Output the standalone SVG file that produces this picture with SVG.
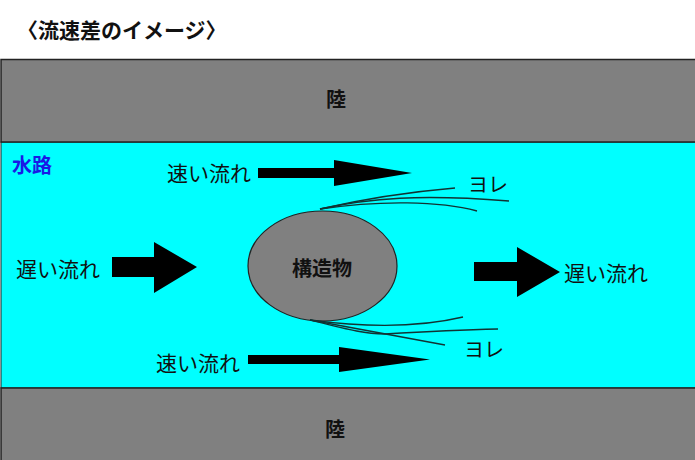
<svg xmlns="http://www.w3.org/2000/svg" width="695" height="460" viewBox="0 0 695 460">
<defs>
<style>
.land{fill:#808080;stroke:#222;stroke-width:1.5}
.water{fill:#00ffff;stroke:#222;stroke-width:1}
.t{font-family:"Noto Sans CJK JP","Noto Sans",sans-serif;font-size:20px;fill:#111}
.b{font-weight:bold}
.arr{fill:#000}
.yore{fill:none;stroke:#113333;stroke-width:1.4}
</style>
</defs>
<rect width="695" height="460" fill="#fff"/>
<text class="t b" x="17" y="38" style="font-size:21px">〈流速差のイメージ〉</text>
<g id="water">
<rect class="water" x="1" y="142" width="700" height="246"/>
<text class="t b" x="12" y="173" style="fill:#1a1ae6">水路</text>
</g>
<g id="land-top">
<rect class="land" x="1" y="59.5" width="700" height="82.5"/>
<text class="t b" x="336" y="107" text-anchor="middle">陸</text>
</g>
<g id="land-bottom">
<rect class="land" x="1" y="388" width="700" height="80"/>
<text class="t b" x="335" y="437" text-anchor="middle">陸</text>
</g>
<g id="structure">
<ellipse cx="322.5" cy="266" rx="74.5" ry="55" fill="#808080" stroke="#222" stroke-width="1.2"/>
<text class="t b" x="322" y="276" text-anchor="middle">構造物</text>
</g>
<g id="connectors">
<path class="arr" d="M258,168 H334 V160 L412,173 L334,186 V178 H258 Z"/>
<path class="arr" d="M248,355 H339 V347 L430,359.5 L339,372 V364 H248 Z"/>
<path class="arr" d="M112,257 H154 V242 L197,267 L154,293 V277 H112 Z"/>
<path class="arr" d="M474,262 H517 V247 L560,272 L517,297 V281 H474 Z"/>
<path class="yore" d="M320,209 Q385,194 455,188"/>
<path class="yore" d="M320,209 C370,198 420,194 509,201"/>
<path class="yore" d="M320,209 C380,200 440,201 477,211"/>
<path class="yore" d="M310,320 Q400,332 463,317"/>
<path class="yore" d="M310,320 C350,330 365,334 385,334 C420,332 460,330 498,329"/>
<path class="yore" d="M310,320 L445,345"/>
</g>
<g id="labels">
<text class="t" x="167" y="181" style="font-size:21px">速い流れ</text>
<text class="t" x="156" y="371" style="font-size:21px">速い流れ</text>
<text class="t" x="16" y="277" style="font-size:21px">遅い流れ</text>
<text class="t" x="564" y="281" style="font-size:21px">遅い流れ</text>
<text class="t" x="468" y="192">ヨレ</text>
<text class="t" x="464" y="357">ヨレ</text>
</g>
</svg>
